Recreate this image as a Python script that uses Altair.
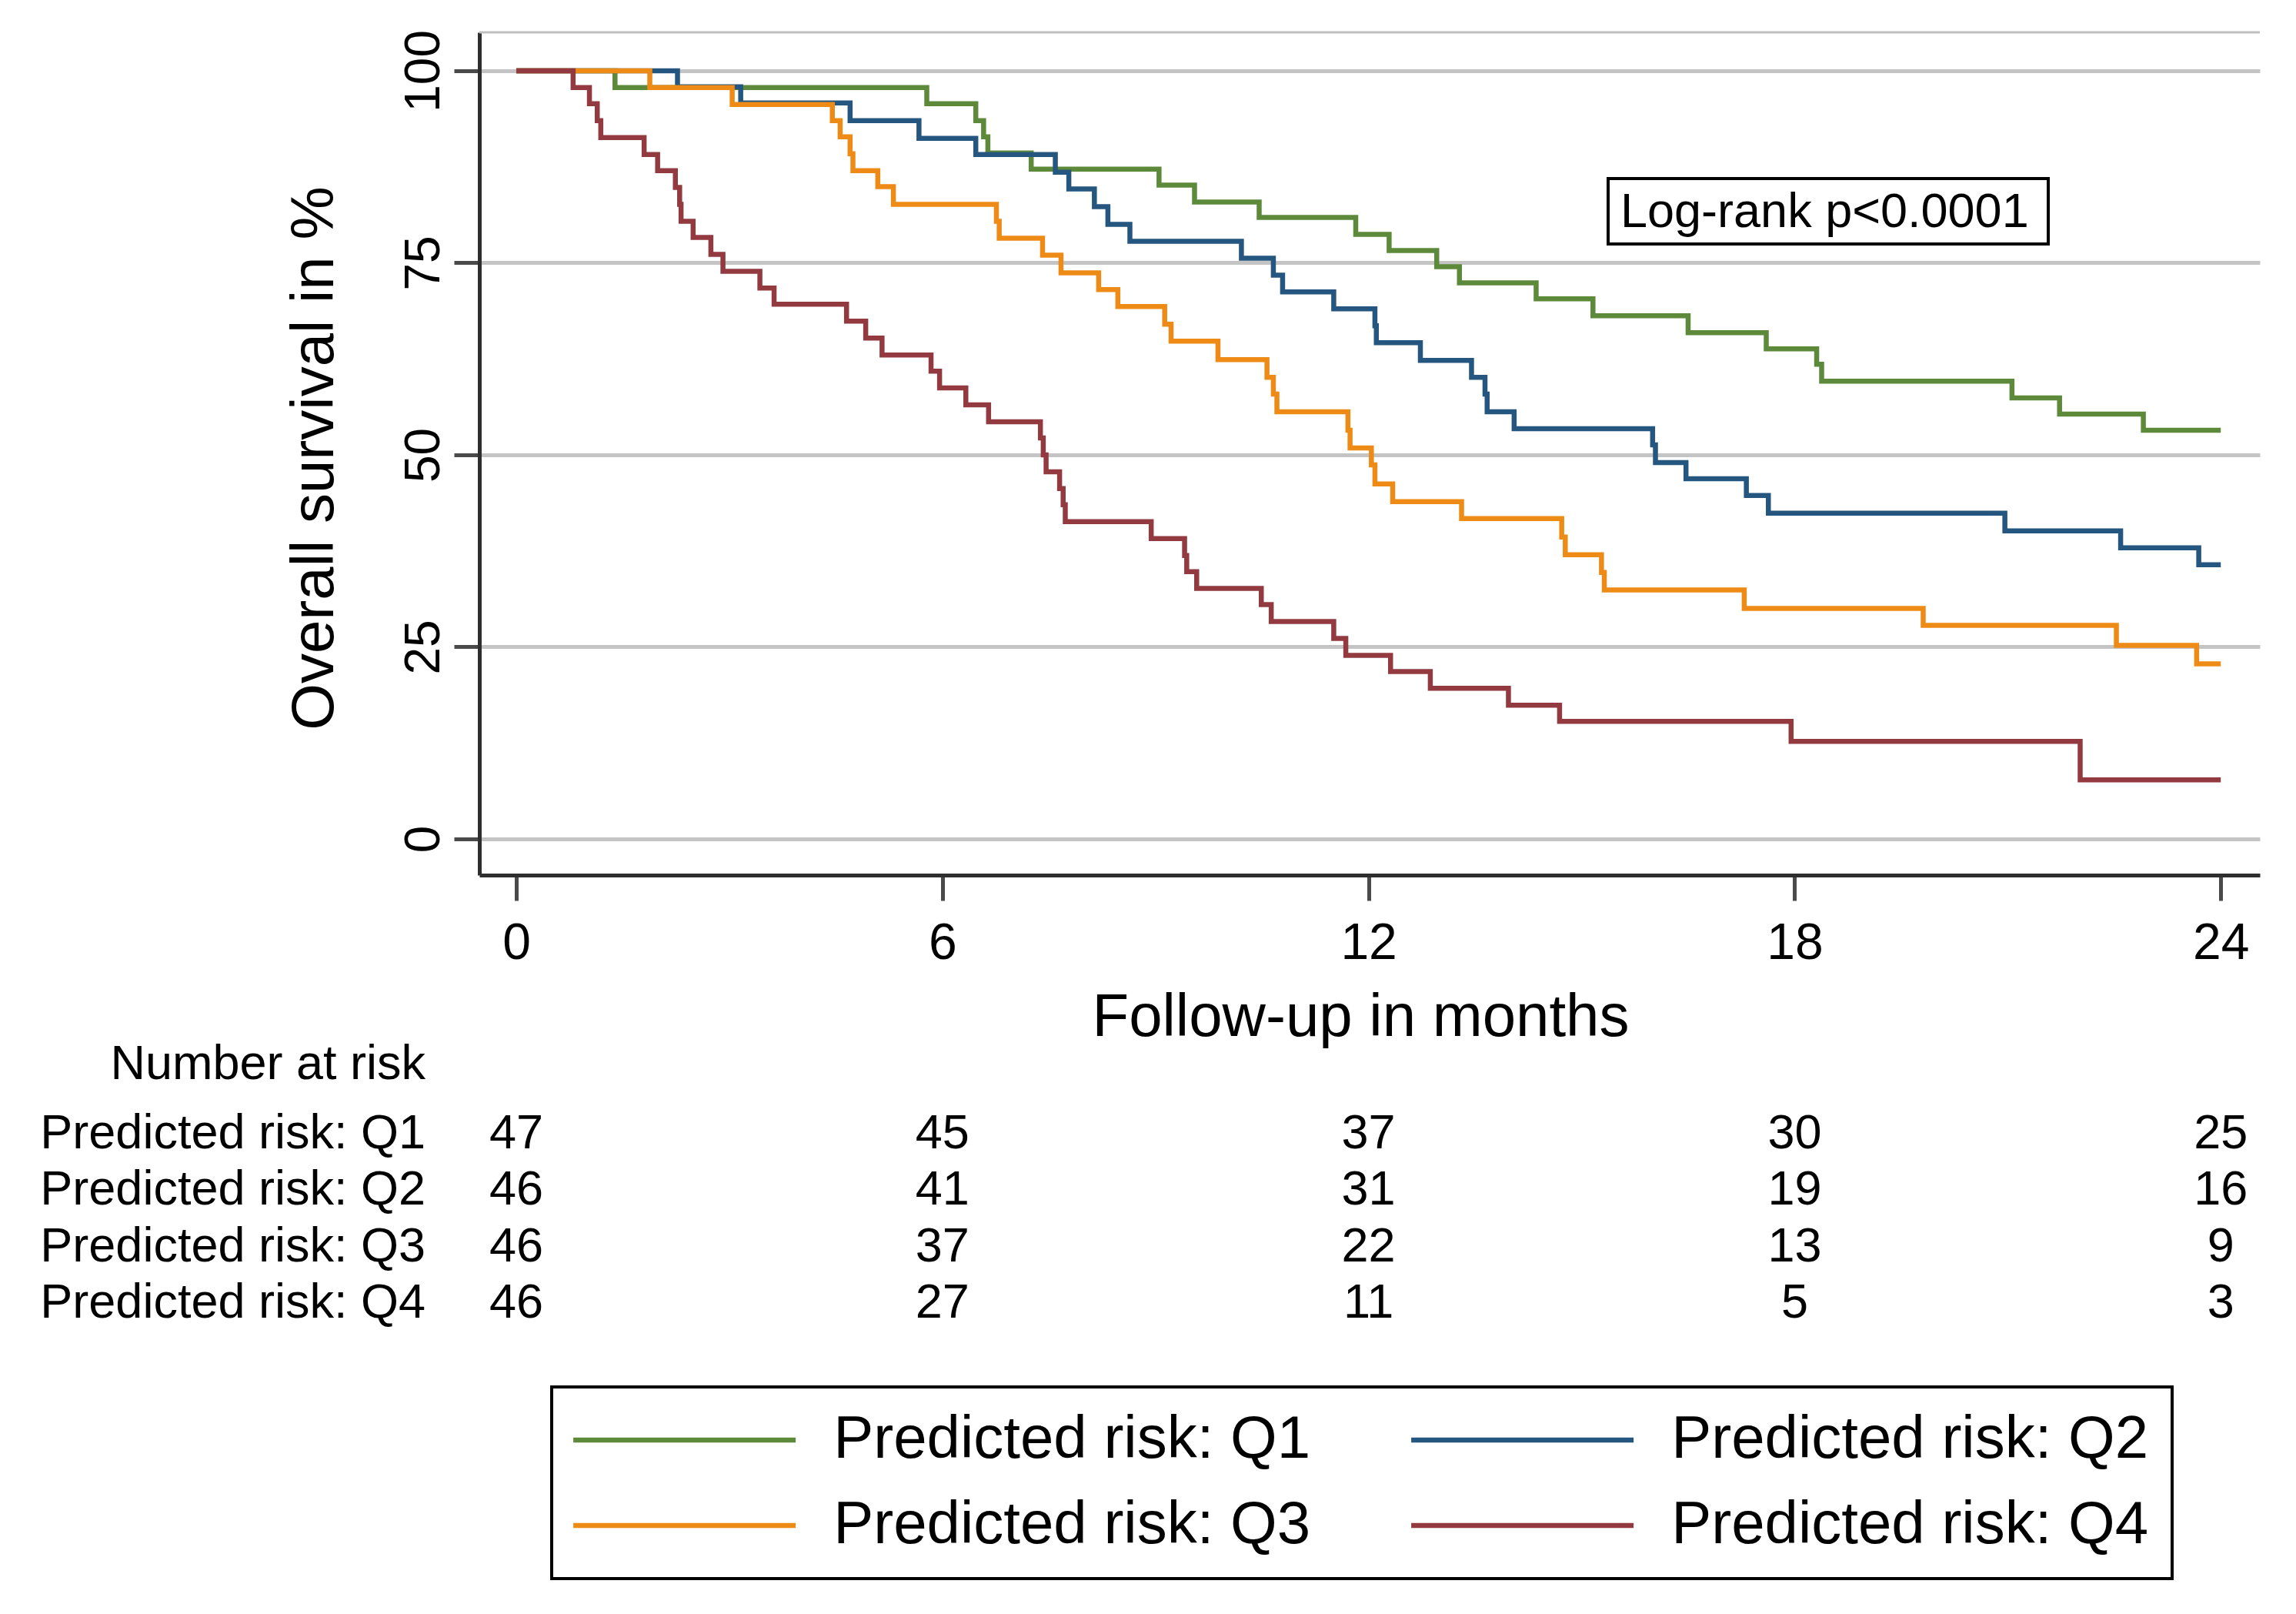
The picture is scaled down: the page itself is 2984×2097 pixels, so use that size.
import altair as alt
import pandas as pd

groups = ["Predicted risk: Q1", "Predicted risk: Q2", "Predicted risk: Q3", "Predicted risk: Q4"]
colors = ["#5d8a3a", "#25567f", "#ee8b17", "#933a40"]

q1_t = [0, 1.39, 5.78, 6.47, 6.58, 6.64, 7.25, 9.05, 9.55, 10.46, 11.82, 12.29, 12.96, 13.28,
        14.36, 15.16, 16.5, 17.6, 18.31, 18.38, 21.06, 21.73, 22.91, 24.0]
q1_s = [100, 97.8, 95.7, 93.5, 91.4, 89.3, 87.2, 85.1, 82.9, 80.9, 78.7, 76.6, 74.5, 72.4,
        70.3, 68.1, 65.9, 63.8, 61.8, 59.6, 57.4, 55.3, 53.2, 53.2]

q2_t = [0, 2.27, 3.16, 4.70, 5.67, 6.47, 7.59, 7.78, 8.14, 8.33, 8.64, 10.21, 10.66, 10.79,
        11.51, 12.09, 12.11, 12.73, 13.45, 13.64, 13.67, 14.05, 16.0, 16.04, 16.47, 17.32,
        17.63, 20.96, 22.59, 23.69, 24.0]
q2_s = [100, 97.9, 95.8, 93.5, 91.2, 89.1, 86.8, 84.6, 82.3, 80.0, 77.8, 75.6, 73.4, 71.2,
        69.0, 66.8, 64.6, 62.3, 60.1, 57.9, 55.6, 53.4, 51.3, 49.0, 46.9, 44.7,
        42.4, 40.1, 37.9, 35.7, 35.7]

q3_t = [0, 1.88, 3.04, 4.45, 4.56, 4.70, 4.74, 5.09, 5.31, 6.76, 6.80, 7.41, 7.67, 8.20, 8.47,
        9.13, 9.22, 9.88, 10.57, 10.66, 10.71, 11.71, 11.74, 12.04, 12.09, 12.34, 13.31,
        14.72, 14.77, 15.28, 15.32, 17.29, 19.81, 22.53, 23.66, 24.0]
q3_s = [100, 97.8, 95.6, 93.5, 91.4, 89.2, 87.0, 84.9, 82.6, 80.4, 78.2, 76.0, 73.7, 71.5, 69.3,
        67.0, 64.8, 62.4, 60.1, 57.9, 55.6, 53.2, 50.9, 48.7, 46.2, 43.9, 41.7,
        39.3, 37.0, 34.7, 32.4, 30.0, 27.8, 25.2, 22.8, 22.8]

q4_t = [0, 0.80, 1.03, 1.14, 1.19, 1.80, 1.99, 2.24, 2.30, 2.32, 2.49, 2.74, 2.91, 3.43, 3.63,
        4.65, 4.92, 5.15, 5.84, 5.96, 6.33, 6.65, 7.38, 7.42, 7.46, 7.65, 7.70, 7.73, 8.94,
        9.41, 9.44, 9.58, 10.49, 10.63, 11.51, 11.68, 12.31, 12.87, 13.97, 14.69, 17.95,
        22.02, 24.0]
q4_s = [100, 97.8, 95.7, 93.5, 91.3, 89.1, 87.0, 84.8, 82.6, 80.4, 78.3, 76.1, 73.9, 71.7, 69.6,
        67.4, 65.2, 63.0, 60.9, 58.7, 56.5, 54.3, 52.2, 50.0, 47.8, 45.6, 43.5, 41.3, 39.1,
        36.9, 34.8, 32.6, 30.5, 28.3, 26.1, 23.9, 21.8, 19.6, 17.4, 15.3, 12.7,
        7.7, 7.7]

risk_months = [0, 6, 12, 18, 24]
risk_q1 = [47, 45, 37, 30, 25]
risk_q2 = [46, 41, 31, 19, 16]
risk_q3 = [46, 37, 22, 13, 9]
risk_q4 = [46, 27, 11, 5, 3]

x_ticks = [0, 6, 12, 18, 24]
y_ticks = [0, 25, 50, 75, 100]
x_title = "Follow-up in months"
y_title = "Overall survival in %"
risk_title = "Number at risk"
annotation = "Log-rank p<0.0001"

# ---- tables built from the lists ----
rows = []
for g, ts, ss in zip(groups, [q1_t, q2_t, q3_t, q4_t], [q1_s, q2_s, q3_s, q4_s]):
    for i, (t, s) in enumerate(zip(ts, ss)):
        rows.append({"group": g, "t": t, "s": s, "i": i})
curve_df = pd.DataFrame(rows)

rrows = []
for g, ns in zip(groups, [risk_q1, risk_q2, risk_q3, risk_q4]):
    for m, n in zip(risk_months, ns):
        rrows.append({"group": g, "t": m, "n": n})
risk_df = pd.DataFrame(rrows)

W, H = 2314, 1095
FONT = "Liberation Sans"

xscale = alt.Scale(domain=[-0.52, 24.55], nice=False, zero=False)
yscale = alt.Scale(domain=[-4.71, 105.0], nice=False, zero=False)
row_scale = alt.Scale(type="point", domain=groups, range=[1431, 1651], padding=0)

x_axis = alt.Axis(values=x_ticks, title=x_title, grid=False, labelFontSize=66,
                  tickSize=33, labelPadding=23, titleFontSize=78, titleX=1145, titleY=208,
                  titleAnchor="start", titleAlign="center", titleBaseline="alphabetic")
x_enc = alt.X("t:Q", scale=xscale, axis=x_axis)

# long horizontal stroke symbol for the legend (custom path, scaled by sqrt(size)/2)
legend_path = "M-5,0H5"
sym_size = 3341  # sqrt = 57.8 -> line length 289

lines = alt.Chart(curve_df).mark_line(
    interpolate="step-after", strokeWidth=6.5, strokeJoin="miter"
).encode(
    x=x_enc,
    y=alt.Y("s:Q", scale=yscale,
            axis=alt.Axis(values=y_ticks, title=y_title, grid=True, labelAngle=270,
                          labelAlign="center", labelBaseline="alphabetic", labelPadding=20,
                          labelFontSize=64, tickSize=33, titleFontSize=78, titleAngle=270,
                          titleX=-191, titleY=553, titleAlign="center",
                          titleBaseline="alphabetic")),
    color=alt.Color("group:N", scale=alt.Scale(domain=groups, range=colors),
                    legend=alt.Legend(title=None, orient="none", legendX=94, legendY=1760,
                                      columns=2, direction="horizontal", symbolType=legend_path,
                                      symbolSize=sym_size, symbolStrokeWidth=6.5,
                                      symbolOffset=103.6,
                                      labelFontSize=78, labelFont=FONT, labelColor="black",
                                      labelOffset=154.6, labelLimit=2000, columnPadding=117,
                                      rowPadding=33, padding=30, strokeColor="black")),
    order="i:Q",
)

one = pd.DataFrame({"label": [annotation]})

top_rule = alt.Chart(one).mark_rule(color="#c0c0c0", strokeWidth=3).encode(
    x=alt.value(0), x2=alt.value(W), y=alt.value(0)
)

box = alt.Chart(one).mark_rect(fill="white", stroke="black", strokeWidth=4).encode(
    x=alt.value(1467), x2=alt.value(2039), y=alt.value(190), y2=alt.value(275)
)
box_text = alt.Chart(one).mark_text(font=FONT, fontSize=63, color="black", align="left",
                                    baseline="alphabetic").encode(
    x=alt.value(1483), y=alt.value(253), text="label:N"
)

table = alt.Chart(risk_df).mark_text(font=FONT, fontSize=63, color="black",
                                     baseline="middle", align="center").encode(
    x=x_enc,
    y=alt.Y("group:N", scale=row_scale, axis=None),
    text="n:Q",
)

row_labels = alt.Chart(pd.DataFrame({"group": groups})).mark_text(
    font=FONT, fontSize=63, color="black", baseline="middle", align="right"
).encode(
    x=alt.value(-70),
    y=alt.Y("group:N", scale=row_scale, axis=None),
    text="group:N",
)

risk_head = alt.Chart(pd.DataFrame({"label": [risk_title]})).mark_text(
    font=FONT, fontSize=63, color="black", baseline="middle", align="right"
).encode(x=alt.value(-70), y=alt.value(1341), text="label:N")

chart = alt.layer(top_rule, lines, box, box_text, table, row_labels, risk_head).resolve_scale(
    y="independent"
).properties(
    width=W, height=H,
    autosize=alt.AutoSizeParams(type="none"),
    padding={"left": 615, "top": 34, "right": 30, "bottom": 940},
    background="white",
).configure_view(stroke=None).configure_axis(
    labelFont=FONT, titleFont=FONT, labelColor="black", titleColor="black",
    titleFontWeight="normal", domainColor="#2e2e2e", domainWidth=5,
    tickColor="#4a4a4a", tickWidth=5, gridColor="#c4c4c4", gridWidth=5,
).configure_legend(strokeWidth=4)

chart.save("out.html", embed_options={"renderer": "svg", "actions": False})
